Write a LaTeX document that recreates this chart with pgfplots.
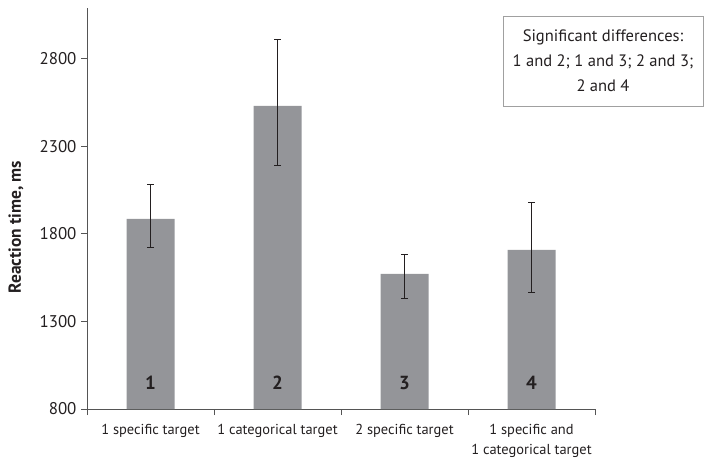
\documentclass[border=0pt]{standalone}
\usepackage{pgfplots}
\pgfplotsset{compat=1.18}
\usepackage{fontspec}
\setmainfont{PT Sans}

\definecolor{barfill}{RGB}{148,149,153}
\definecolor{ink}{RGB}{35,31,32}
\definecolor{axisgray}{RGB}{85,85,85}
\definecolor{boxgray}{RGB}{160,160,160}

\newcommand{\yt}[1]{\fontsize{17}{20}\selectfont #1}

% mean reaction time with upper and lower error
\pgfplotstableread{
x  rt    up   down
0  1886  194  165
1  2531  377  337
2  1571  113  138
3  1709  272  242
}\rtdata

\begin{document}
\begin{tikzpicture}
\begin{axis}[
  at={(87bp,-409bp)}, anchor=south west,
  scale only axis, width=508bp, height=401bp,
  xmin=-0.5, xmax=3.5, ymin=800, ymax=3090,
  axis lines=left, axis line style={-, axisgray, line width=0.9pt},
  ybar, bar width=48bp,
  xtick={0,1,2,3},
  xticklabels={1 specific target, 1 categorical target, 2 specific target, {1 specific and\\1 categorical target}},
  major x tick style={draw=none},
  minor xtick={-0.5,0.5,1.5,2.5,3.5},
  minor x tick style={axisgray, line width=0.9pt},
  minor tick length=6bp,
  ytick={800,1300,1800,2300,2800},
  yticklabels={\yt{800},\yt{1300},\yt{1800},\yt{2300},\yt{2800}},
  y tick style={axisgray, line width=0.9pt},
  major tick length=6bp,
  tick align=outside,
  ticklabel style={text=ink},
  yticklabel style={xshift=-1bp},
  xticklabel style={align=center, font=\fontsize{14.5}{20}\selectfont, yshift=-6bp},
  clip=false,
]
\addplot[fill=barfill, draw=none,
  error bars/.cd, y dir=both, y explicit,
  error bar style={ink, line width=0.8pt},
  error mark options={rotate=90, mark size=3.5bp, ink, line width=0.8pt}]
  table[x=x, y=rt, y error plus=up, y error minus=down] {\rtdata};
\foreach \i/\n in {0/1,1/2,2/3,3/4}{
  \edef\tmp{\noexpand\node[font=\noexpand\bfseries\noexpand\fontsize{19}{19}\noexpand\selectfont, text=ink] at (axis cs:\i,949) {\n};}
  \tmp
}
\end{axis}
\node[rotate=90, font=\bfseries\fontsize{17.5}{20}\selectfont, text=ink] at (16bp,-227bp) {Reaction time, ms};
\node[draw=boxgray, line width=0.8pt, minimum width=200bp, minimum height=90bp, align=center,
  font=\fontsize{16.6}{25}\selectfont, text=ink] at (603bp,-61bp)
  {Significant differences:\\1 and 2; 1 and 3; 2 and 3;\\2 and 4};
\pgfresetboundingbox
\useasboundingbox (0,0) rectangle (705bp,-461bp);
\end{tikzpicture}
\end{document}
